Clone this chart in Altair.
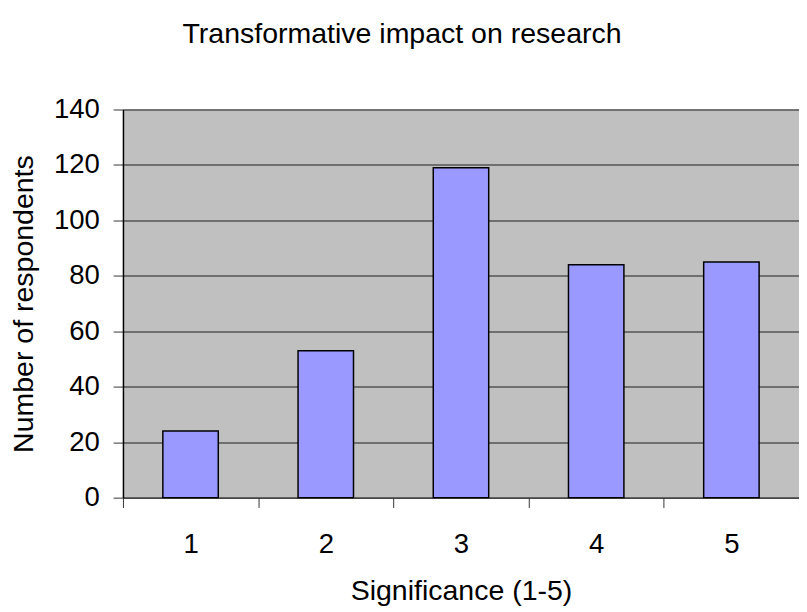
import altair as alt
import pandas as pd

categories = ["1", "2", "3", "4", "5"]
respondents = [24, 53, 119, 84, 85]
y_ticks = [0, 20, 40, 60, 80, 100, 120, 140]

df = pd.DataFrame({"Significance": categories, "Respondents": respondents})

FONT = "Liberation Sans"

chart = (
    alt.Chart(df)
    .mark_bar(fill="#9999FF", stroke="#000000", strokeWidth=1.5, width={"band": 0.41})
    .encode(
        x=alt.X(
            "Significance:N",
            sort=categories,
            scale=alt.Scale(paddingInner=0, paddingOuter=0),
            axis=alt.Axis(
                title="Significance (1-5)",
                labelAngle=0,
                tickBand="extent",
                tickSize=10,
                tickColor="#333333",
                tickWidth=1,
                domainColor="#333333",
                domainWidth=1.5,
                labelFontSize=28,
                labelFont=FONT,
                labelColor="#000000",
                labelPadding=24,
                titleFontSize=29,
                titleFont=FONT,
                titleFontWeight="normal",
                titleColor="#000000",
                titlePadding=19,
                grid=False,
            ),
        ),
        y=alt.Y(
            "Respondents:Q",
            scale=alt.Scale(domain=[0, 140], nice=False),
            axis=alt.Axis(
                title="Number of respondents",
                values=y_ticks,
                tickSize=10,
                tickColor="#333333",
                domainColor="#000000",
                domainWidth=1.5,
                gridColor="#555555",
                gridWidth=1.5,
                labelFontSize=28,
                labelFont=FONT,
                labelColor="#000000",
                labelPadding=14,
                titleFontSize=29,
                titleFont=FONT,
                titleFontWeight="normal",
                titleColor="#000000",
                titlePadding=15,
            ),
        ),
    )
    .properties(
        width=688,
        height=395,
        autosize=alt.AutoSizeParams(type="none"),
        padding={"left": 117, "top": 98, "right": 0, "bottom": 106},
        title=alt.TitleParams(
            "Transformative impact on research",
            font=FONT,
            fontSize=29,
            fontWeight="normal",
            color="#000000",
            anchor="middle",
            dx=-60,
            offset=48,
        ),
    )
    .configure_view(fill="#C0C0C0", stroke=None)
)

chart.save("out.html", embed_options={"renderer": "svg", "actions": False})
